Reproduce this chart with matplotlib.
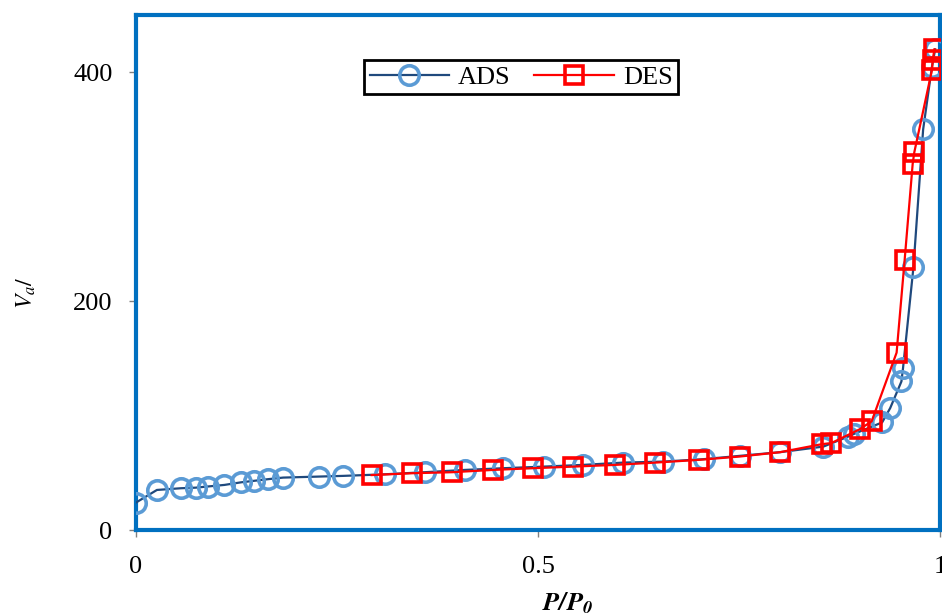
import matplotlib
matplotlib.use('Agg')
import matplotlib.pyplot as plt

plt.rcParams['font.family'] = ['Liberation Serif', 'DejaVu Serif']
plt.rcParams['mathtext.fontset'] = 'stix'

# adsorption branch (P/P0, Va)
ads_x = [0.0, 0.026, 0.056, 0.074, 0.089, 0.110, 0.131, 0.147, 0.164, 0.183,
         0.228, 0.258, 0.310, 0.359, 0.409, 0.457, 0.507, 0.556, 0.606, 0.656,
         0.706, 0.751, 0.801, 0.855, 0.886, 0.893, 0.928, 0.938, 0.952, 0.954,
         0.967, 0.979, 0.990, 0.994]
ads_y = [24, 35, 36.5, 37, 38, 39.4, 41.7, 43, 44.4, 45.8,
         46.7, 47.3, 48.7, 50.5, 52.5, 54, 55.4, 56.9, 58.9, 59.8,
         61.9, 64.8, 68, 72.9, 81.7, 84, 94, 106.5, 129.8, 141.5,
         230, 350, 405, 420]

# desorption branch
des_x = [0.993, 0.991, 0.990, 0.968, 0.966, 0.956, 0.946, 0.915, 0.900, 0.865,
         0.853, 0.801, 0.751, 0.700, 0.646, 0.596, 0.544, 0.494, 0.444, 0.393,
         0.343, 0.293]
des_y = [420, 411, 402, 330, 320, 236, 155, 95, 88, 76,
         75, 68, 64.2, 61.3, 58.9, 56.9, 55.4, 54, 52.5, 50.5,
         49.6, 48]

x_ticks = [0, 0.5, 1]
x_labels = ['0', '0.5', '1']
y_ticks = [0, 200, 400]

fig = plt.figure(figsize=(9.42, 6.15), dpi=100)
ax = fig.add_axes([0.1444, 0.1382, 0.8535, 0.8374])

ax.plot(ads_x, ads_y, color='#1F497D', lw=1.6, marker='o', ms=14,
        mfc='none', mec='#5B9BD5', mew=2.6, label='ADS', zorder=3)
ax.plot(des_x, des_y, color='#FF0000', lw=1.6, marker='s', ms=13.5,
        mfc='none', mec='#FF0000', mew=2.6, label='DES', zorder=4)

ax.set_xlim(0, 1)
ax.set_ylim(0, 450)
ax.set_xticks(x_ticks)
ax.set_xticklabels(x_labels)
ax.set_yticks(y_ticks)
ax.tick_params(axis='both', direction='out', length=5, width=1,
               color='#808080', labelsize=19)
ax.tick_params(axis='x', pad=14)
ax.tick_params(axis='y', pad=12)

for s in ax.spines.values():
    s.set_color('#0070C0')
    s.set_linewidth(3)

ax.set_xlabel(r'$\mathbfit{P/P_0}$', fontsize=19)
ax.xaxis.set_label_coords(0.537, -0.118)
ax.set_ylabel(r'$V_a/$', fontsize=17)
ax.yaxis.set_label_coords(-0.122, 0.46)

leg = ax.legend(loc='center', bbox_to_anchor=(0.479, 0.879), ncol=2,
                fontsize=19, frameon=True, fancybox=False, shadow=False,
                handlelength=3, handletextpad=0.35, columnspacing=0.9,
                borderpad=0.2, borderaxespad=0)
leg.get_frame().set_edgecolor('black')
leg.get_frame().set_linewidth(2)
leg.get_frame().set_alpha(1)

fig.savefig('out.png', dpi=100)
